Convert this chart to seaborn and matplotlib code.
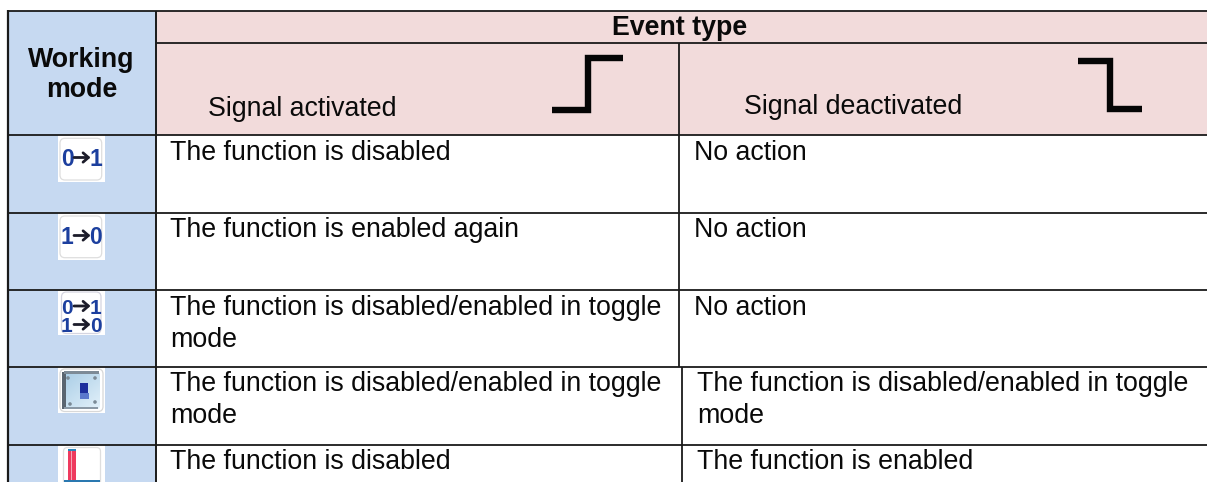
import numpy as np
import matplotlib
matplotlib.use("Agg")
import matplotlib.pyplot as plt
from matplotlib.patches import Rectangle, FancyBboxPatch, Circle
import seaborn as sns

sns.set_theme(style="white")
plt.rcParams['font.family'] = ['Liberation Sans', 'DejaVu Sans']

W, H = 1207, 482
LEFT, MID = 8, 155.5
TOP, SUB, HEAD = 11, 42.7, 134.7
ROW_LINES = [212.7, 290.3, 366.7, 444.7, 482]
DIVIDERS = [679, 679, 679, 679, 679, 682, 682]

HEADER_MODE = ["Working", "mode"]
HEADER_EVENT = "Event type"
HEADER_ON = "Signal activated"
HEADER_OFF = "Signal deactivated"
ICON_LABELS = [("0", "1"), ("1", "0"), None, None, None]
COL1 = [
    ["The function is disabled"],
    ["The function is enabled again"],
    ["The function is disabled/enabled in toggle", "mode"],
    ["The function is disabled/enabled in toggle", "mode"],
    ["The function is disabled"],
]
COL2 = [
    ["No action"],
    ["No action"],
    ["No action"],
    ["The function is disabled/enabled in toggle", "mode"],
    ["The function is enabled"],
]
BASELINES = [160.5, 237.3, 315, 391, 468.7]
COL2_X = [694, 694, 694, 697, 697]
LINE_GAP = 31.8
STEP_UP_X = [552, 587.7, 587.7, 622.5]
STEP_UP_Y = [110, 110, 58.3, 58.3]
STEP_DOWN_X = [1078, 1110, 1110, 1141.7]
STEP_DOWN_Y = [61, 61, 108.7, 108.7]

BLUE, PINK, INK = "#C6D9F1", "#F2DBDB", "#0a0a0a"
DIGIT = "#1c3f9e"
FS = 19.3

fig = plt.figure(figsize=(W / 100, H / 100), dpi=100, facecolor="white")
ax = fig.add_axes([0, 0, 1, 1])
ax.set_axis_off()

# fills
ax.add_patch(Rectangle((LEFT, TOP), MID - LEFT, H - TOP, fc=BLUE, ec="none", zorder=1))
ax.add_patch(Rectangle((MID, TOP), W - MID, HEAD - TOP, fc=PINK, ec="none", zorder=1))

# rules
lw = 1.3
for y in [TOP, HEAD] + ROW_LINES[:-1]:
    ax.plot([LEFT, W], [y, y], color="k", lw=lw, zorder=3, solid_capstyle="butt")
ax.plot([MID, W], [SUB, SUB], color="k", lw=lw, zorder=3, solid_capstyle="butt")
ax.plot([LEFT, LEFT], [TOP - .7, H], color="k", lw=1.6, zorder=3, solid_capstyle="butt")
ax.plot([MID, MID], [TOP, H], color="k", lw=1.4, zorder=3, solid_capstyle="butt")
ax.plot([DIVIDERS[0]] * 2, [SUB, ROW_LINES[2]], color="k", lw=1.3, zorder=3, solid_capstyle="butt")
ax.plot([DIVIDERS[-1]] * 2, [ROW_LINES[2], H], color="k", lw=1.3, zorder=3, solid_capstyle="butt")

# step glyphs
for xs, ys in [(STEP_UP_X, STEP_UP_Y), (STEP_DOWN_X, STEP_DOWN_Y)]:
    sns.lineplot(x=xs, y=ys, ax=ax, sort=False, estimator=None, color="#050505",
                 lw=4.6, zorder=4, legend=False,
                 solid_joinstyle="miter", solid_capstyle="butt")

# header text
for txt, y in zip(HEADER_MODE, [66.7, 97]):
    ax.text(81.5, y, txt, ha="center", va="baseline", fontsize=FS, fontweight="bold", color=INK, zorder=5)
ax.text(680, 35, HEADER_EVENT, ha="center", va="baseline", fontsize=FS, fontweight="bold", color=INK, zorder=5)
ax.text(208, 115.7, HEADER_ON, va="baseline", fontsize=FS, color=INK, zorder=5)
ax.text(743.5, 114.5, HEADER_OFF, va="baseline", fontsize=FS, color=INK, zorder=5)

# body text
for i, (a, b) in enumerate(zip(COL1, COL2)):
    for j, t in enumerate(a):
        ax.text(170, BASELINES[i] + j * LINE_GAP, t, va="baseline", fontsize=FS, color=INK, zorder=5)
    for j, t in enumerate(b):
        ax.text(COL2_X[i], BASELINES[i] + j * LINE_GAP, t, va="baseline", fontsize=FS, color=INK, zorder=5)

# icon tiles
def tile(y0, y1=None):
    y1 = y0 + 47 if y1 is None else y1
    ax.add_patch(Rectangle((58, y0), 47, y1 - y0, fc="white", ec="none", zorder=2))
    box = FancyBboxPatch((60, y0 + 3.3), 41.7, 41.7, boxstyle="round,pad=0,rounding_size=5",
                         fc="white", ec="#dedede", lw=0.9, zorder=2.2)
    ax.add_patch(box)
    return box

def trans(left, right, yc, size=16.5):
    ax.text(67, yc, left, ha="center", va="center_baseline", fontsize=size, fontweight="bold",
            color=DIGIT, zorder=5)
    ax.text(95.5, yc, right, ha="center", va="center_baseline", fontsize=size, fontweight="bold",
            color=DIGIT, zorder=5)
    ax.annotate("", xy=(90.5, yc), xytext=(74, yc), zorder=5,
                arrowprops=dict(arrowstyle="->,head_length=0.32,head_width=0.28", lw=2.0, color="#1c1c2a",
                                shrinkA=0, shrinkB=0))

tile(135)
trans(*ICON_LABELS[0], 157.5)
tile(212.7)
trans(*ICON_LABELS[1], 235.5)

ax.add_patch(Rectangle((58, 290.7), 47, 44.3, fc="white", ec="none", zorder=2))
ax.add_patch(FancyBboxPatch((61.5, 292), 39.5, 41.5, boxstyle="round,pad=0,rounding_size=5",
                            fc="white", ec="#d5d5e0", lw=0.9, zorder=2.2))
trans("0", "1", 306, 15)
trans("1", "0", 324.5, 15)

# switch icon
ax.add_patch(Rectangle((58, 366.7), 47, 46.6, fc="white", ec="none", zorder=2))
ax.add_patch(FancyBboxPatch((60, 369), 43, 42.5, boxstyle="round,pad=0,rounding_size=5",
                            fc="white", ec="#d8d8d8", lw=0.9, zorder=2.2))
grad = np.linspace(0, 1, 40)[None, :] * 0.45 + np.linspace(0, 1, 40)[:, None] * 0.55
im = ax.imshow(grad, extent=(63.5, 100, 409, 372), cmap=sns.blend_palette(["#a9cde6", "#e3f1fa"], as_cmap=True),
               aspect="auto", zorder=2.4)
panel = FancyBboxPatch((63.5, 372), 36.5, 37, boxstyle="round,pad=0,rounding_size=3", fc="none", ec="none",
                       transform=ax.transData)
ax.add_patch(panel)
im.set_clip_path(panel)
ax.add_patch(Rectangle((61.5, 372), 4, 37, fc="#5a6570", ec="none", zorder=2.5))
ax.add_patch(Rectangle((64, 370.5), 35, 3, fc="#7d8b97", ec="none", zorder=2.5))
ax.add_patch(Rectangle((64, 407), 34, 2.2, fc="#8b99a6", ec="none", zorder=2.5))
for cx, cy in [(68, 378), (95, 378), (70, 404), (95, 402)]:
    ax.add_patch(Circle((cx, cy), 1.8, fc="#7b8a96", ec="none", zorder=2.6))
ax.add_patch(Rectangle((79.5, 383), 8, 15, fc="#1d2f9c", ec="none", zorder=2.7))
ax.add_patch(Rectangle((79.5, 393), 9.5, 6, fc="#5a78cc", ec="none", zorder=2.8))

# red-bar icon, cut by the image edge
ax.add_patch(Rectangle((58, 444.7), 47, H - 444.7, fc="white", ec="none", zorder=2))
ax.add_patch(FancyBboxPatch((63.5, 447.5), 37, 41, boxstyle="round,pad=0,rounding_size=4",
                            fc="white", ec="#dedede", lw=0.9, zorder=2.2))
ax.add_patch(Rectangle((67.5, 450), 8.5, 31, fc="#ee3a5e", ec="none", zorder=2.5))
ax.add_patch(Rectangle((71, 450), 1, 31, fc="#f4a5b5", ec="none", zorder=2.6))
ax.add_patch(Rectangle((67.5, 449), 8.5, 2.4, fc="#2a86bc", ec="none", zorder=2.7))
ax.add_patch(Rectangle((64, 479.5), 36, 2, fc="#2a78b0", ec="none", zorder=2.7))

ax.set_xlim(0, W)
ax.set_ylim(H, 0)
fig.savefig("out.png", dpi=100, facecolor="white")
